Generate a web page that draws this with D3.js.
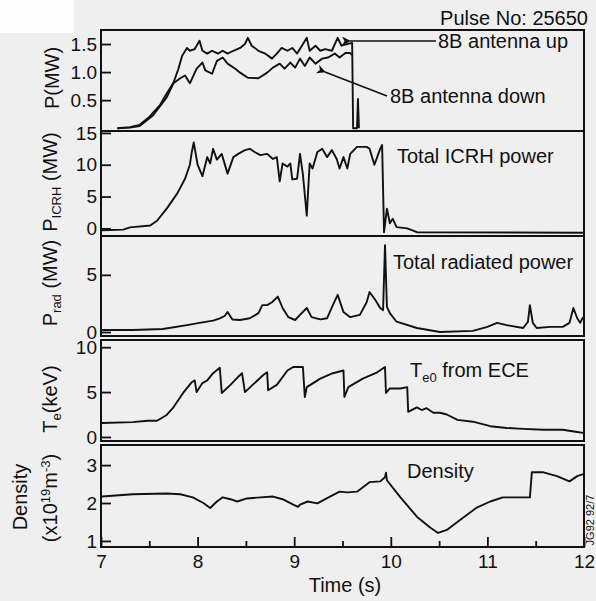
<!DOCTYPE html>
<html>
<head>
<meta charset="utf-8">
<script src="https://cdn.jsdelivr.net/npm/d3@7/dist/d3.min.js"></script>
<style>
  html, body { margin: 0; padding: 0; background: #efefef; }
  svg { display: block; }
  text { font-family: "Liberation Sans", Arial, Helvetica, sans-serif; fill: #111; }
</style>
</head>
<body>
<svg id="chart" width="596" height="601"></svg>
<script>
// ---- Data: JET pulse 25650, time traces (time in s, value) ----
const timeTicks = [7, 8, 9, 10, 11, 12];
const timeMinorTicks = [7.5, 8.5, 9.5, 10.5, 11.5];

const antennaUp = [
  [7.17,0.00],[7.30,0.02],[7.40,0.06],[7.50,0.20],[7.61,0.41],[7.68,0.62],[7.75,0.81],[7.80,1.05],
  [7.84,1.29],[7.89,1.43],[7.92,1.38],[7.97,1.41],[8.02,1.56],[8.05,1.38],[8.10,1.33],[8.15,1.38],
  [8.21,1.33],[8.26,1.38],[8.31,1.33],[8.37,1.38],[8.44,1.43],[8.49,1.50],[8.52,1.61],[8.56,1.47],
  [8.63,1.38],[8.70,1.33],[8.77,1.24],[8.82,1.33],[8.87,1.43],[8.93,1.38],[8.98,1.43],[9.03,1.33],
  [9.08,1.47],[9.13,1.61],[9.16,1.38],[9.22,1.47],[9.27,1.38],[9.32,1.41],[9.39,1.38],[9.45,1.61],
  [9.49,1.47],[9.55,1.50],[9.60,1.52],[9.61,0.00],[9.65,0.00],[9.66,0.52],[9.67,0.00]
];
const antennaDown = [
  [7.17,0.00],[7.30,0.01],[7.40,0.04],[7.54,0.23],[7.68,0.55],[7.75,0.80],[7.82,0.89],[7.87,0.94],
  [7.92,0.80],[7.99,1.06],[8.05,1.17],[8.08,1.03],[8.15,0.97],[8.20,1.20],[8.26,1.26],[8.31,1.15],
  [8.39,1.06],[8.44,0.99],[8.52,0.90],[8.63,0.89],[8.72,0.99],[8.78,1.08],[8.85,1.15],[8.90,1.06],
  [8.96,1.17],[9.01,1.08],[9.06,1.24],[9.11,1.11],[9.16,1.26],[9.22,1.15],[9.29,1.24],[9.35,1.26],
  [9.42,1.33],[9.47,1.26],[9.53,1.34],[9.58,1.34],[9.60,1.30]
];
const icrhPower = [
  [7.01,-0.3],[7.23,-0.2],[7.30,0.15],[7.51,0.45],[7.58,1.2],[7.68,3.1],[7.79,5.5],[7.87,7.8],
  [7.92,10.0],[7.94,12.0],[7.96,13.5],[8.00,10.0],[8.05,8.2],[8.10,11.2],[8.13,10.2],[8.16,12.5],
  [8.20,10.8],[8.25,11.7],[8.31,8.6],[8.37,11.2],[8.42,11.7],[8.49,12.3],[8.54,12.5],[8.59,12.0],
  [8.65,11.5],[8.72,11.7],[8.78,10.9],[8.82,11.2],[8.85,7.4],[8.88,10.2],[8.93,9.7],[8.96,10.2],
  [8.98,7.7],[9.03,7.8],[9.06,11.7],[9.09,8.5],[9.13,2.0],[9.16,10.2],[9.19,9.4],[9.24,12.0],
  [9.29,12.5],[9.34,11.2],[9.39,12.3],[9.44,10.9],[9.47,9.4],[9.51,11.2],[9.55,9.4],[9.58,11.7],
  [9.65,12.8],[9.70,12.8],[9.75,12.8],[9.78,12.5],[9.83,10.0],[9.89,12.5],[9.91,13.1],[9.93,-0.6],
  [9.96,3.1],[9.99,0.8],[10.02,1.5],[10.06,0.2],[10.17,0.0],[10.27,-0.6],[12.0,-0.7]
];
const radPower = [
  [7.01,0.18],[7.33,0.18],[7.64,0.26],[7.89,0.6],[8.02,0.8],[8.16,1.0],[8.23,1.2],[8.28,1.4],
  [8.31,1.75],[8.36,1.1],[8.44,1.05],[8.54,1.2],[8.63,1.65],[8.67,2.35],[8.72,2.35],[8.77,2.6],
  [8.83,3.1],[8.88,2.1],[8.94,1.3],[9.01,1.05],[9.06,1.5],[9.13,2.1],[9.18,1.3],[9.27,1.1],
  [9.34,1.2],[9.40,2.35],[9.45,3.25],[9.51,1.75],[9.58,1.3],[9.68,1.5],[9.75,2.6],[9.78,3.5],
  [9.84,2.8],[9.89,2.1],[9.92,1.9],[9.94,7.6],[9.96,2.2],[9.99,1.65],[10.06,0.9],[10.27,0.35],
  [10.51,0.0],[10.85,0.1],[11.00,0.45],[11.10,0.8],[11.20,0.6],[11.37,0.35],[11.42,0.9],[11.44,2.35],
  [11.47,0.8],[11.51,0.35],[11.65,0.45],[11.78,0.45],[11.85,0.8],[11.89,2.1],[11.93,1.2],[11.96,0.8],
  [11.99,1.3]
];
const teECE = [
  [7.01,1.55],[7.33,1.65],[7.48,1.8],[7.58,1.8],[7.68,2.45],[7.75,3.3],[7.85,4.9],[7.94,6.1],
  [7.97,6.3],[7.99,5.0],[8.05,6.0],[8.10,6.3],[8.16,7.1],[8.23,7.7],[8.25,4.9],[8.34,5.8],
  [8.42,6.7],[8.46,7.1],[8.49,5.0],[8.57,5.8],[8.68,6.9],[8.72,7.2],[8.73,5.2],[8.82,5.8],
  [8.93,7.4],[8.99,7.8],[9.09,7.8],[9.11,4.45],[9.13,5.55],[9.27,6.5],[9.40,7.1],[9.51,7.4],
  [9.52,4.45],[9.56,5.55],[9.71,6.5],[9.86,7.2],[9.94,7.8],[9.95,4.9],[9.99,5.4],[10.10,5.4],
  [10.17,5.55],[10.18,2.8],[10.27,3.3],[10.32,3.0],[10.37,3.2],[10.44,2.7],[10.51,2.7],[10.58,2.5],
  [10.69,1.9],[10.85,1.7],[11.03,1.2],[11.20,1.0],[11.37,0.9],[11.58,0.8],[11.78,0.8],[11.93,0.55],
  [11.99,0.45]
];
const density = [
  [7.01,2.17],[7.33,2.23],[7.68,2.25],[7.82,2.23],[7.95,2.15],[8.06,2.0],[8.13,1.87],[8.20,2.04],
  [8.26,2.15],[8.34,2.1],[8.41,2.04],[8.51,2.12],[8.65,2.15],[8.78,2.17],[8.88,2.1],[8.99,1.96],
  [9.04,1.9],[9.06,1.96],[9.14,2.04],[9.24,1.99],[9.37,2.17],[9.47,2.3],[9.55,2.28],[9.65,2.3],
  [9.78,2.55],[9.89,2.57],[9.94,2.68],[9.95,2.8],[9.96,2.6],[10.10,2.15],[10.27,1.64],[10.41,1.35],
  [10.49,1.21],[10.58,1.29],[10.72,1.56],[10.89,1.88],[11.03,2.04],[11.16,2.15],[11.37,2.15],[11.44,2.15],
  [11.46,2.81],[11.58,2.81],[11.72,2.71],[11.85,2.57],[11.93,2.71],[11.99,2.76]
];

const powerTicks = [0.5, 1.0, 1.5];
const icrhTicks = [0, 5, 10, 15];
const radTicks = [0, 5];
const teTicks = [0, 5, 10];
const densityTicks = [1, 2, 3];

// ---- Layout ----
const svg = d3.select("#chart");
const left = 101, right = 584;
const x = d3.scaleLinear().domain([7, 12]).range([left, right]);
const INK = "#111";

svg.append("rect").attr("x", 0).attr("y", 0).attr("width", 596).attr("height", 601).attr("fill", "#efefef");
svg.append("rect").attr("x", 0).attr("y", 0).attr("width", 74).attr("height", 33).attr("fill", "#fdfdfd");

const panels = [
  { top: 30,  bottom: 131, domain: [-0.05, 1.75], ticks: powerTicks, fmt: d3.format(".1f"), series: [antennaUp, antennaDown] },
  { top: 131, bottom: 236, domain: [-1.2, 15.3],  ticks: icrhTicks,  fmt: d3.format("d"),   series: [icrhPower] },
  { top: 236, bottom: 336, domain: [-0.35, 8.4],  ticks: radTicks,   fmt: d3.format("d"),   series: [radPower] },
  { top: 340, bottom: 441, domain: [-0.45, 10.8], ticks: teTicks,    fmt: d3.format("d"),   series: [teECE] },
  { top: 445, bottom: 547, domain: [0.84, 3.53],  ticks: densityTicks, fmt: d3.format("d"), series: [density] }
];

panels.forEach((p, i) => {
  const y = d3.scaleLinear().domain(p.domain).range([p.bottom, p.top]);
  p.y = y;
  const g = svg.append("g");

  // inward ticks on the left edge
  const ax = g.append("g")
    .attr("transform", `translate(${left},0)`)
    .call(d3.axisLeft(y).tickValues(p.ticks).tickFormat(p.fmt).tickSize(-10).tickPadding(4));
  ax.select(".domain").remove();
  ax.selectAll("line").attr("stroke", INK).attr("stroke-width", 1.8);
  ax.selectAll("text").attr("font-size", 19).attr("fill", INK)
    .style("font-family", '"Liberation Sans", Arial, sans-serif');

  // traces
  const line = d3.line().x(d => x(d[0])).y(d => y(d[1]));
  p.series.forEach(s => {
    g.append("path").datum(s).attr("d", line)
      .attr("fill", "none").attr("stroke", INK).attr("stroke-width", 1.9)
      .attr("stroke-linejoin", "round");
  });

  // frame
  g.append("rect").attr("x", left).attr("y", p.top)
    .attr("width", right - left).attr("height", p.bottom - p.top)
    .attr("fill", "none").attr("stroke", INK).attr("stroke-width", 2);
});

// time axis along the bottom panel
const last = panels[panels.length - 1];
const tAxis = svg.append("g").attr("transform", `translate(0,${last.bottom})`)
  .call(d3.axisBottom(x).tickValues(timeTicks).tickFormat(d3.format("d")).tickSize(-10).tickPadding(8));
tAxis.select(".domain").remove();
tAxis.selectAll("line").attr("stroke", INK).attr("stroke-width", 1.8);
tAxis.selectAll("text").attr("font-size", 19).attr("fill", INK)
  .style("font-family", '"Liberation Sans", Arial, sans-serif');
const tMinor = svg.append("g").attr("transform", `translate(0,${last.bottom})`)
  .call(d3.axisBottom(x).tickValues(timeMinorTicks).tickFormat("").tickSize(-6));
tMinor.select(".domain").remove();
tMinor.selectAll("line").attr("stroke", INK).attr("stroke-width", 1.8);

svg.append("text").attr("x", 345).attr("y", 592).attr("text-anchor", "middle")
  .attr("font-size", 20).text("Time (s)");

// y-axis titles (rotated)
function yTitle(cx, cy, parts) {
  const t = svg.append("text").attr("transform", `translate(${cx},${cy}) rotate(-90)`)
    .attr("text-anchor", "middle").attr("font-size", 20);
  parts.forEach(pt => {
    const ts = t.append("tspan").text(pt.text);
    if (pt.size) ts.attr("font-size", pt.size);
    if (pt.dy) ts.attr("dy", pt.dy);
  });
  return t;
}
yTitle(59, 78, [{ text: "P(MW)" }]);
yTitle(57, 182, [{ text: "P" }, { text: "ICRH", size: 13, dy: 4 }, { text: " (MW)", dy: -4 }]);
yTitle(57, 283, [{ text: "P" }, { text: "rad", size: 13, dy: 4 }, { text: " (MW)", dy: -4 }]);
yTitle(57, 399, [{ text: "T" }, { text: "e", size: 13, dy: 4 }, { text: "(keV)", dy: -4 }]);
yTitle(27, 497, [{ text: "Density" }]);
yTitle(57, 498, [{ text: "(x10" }, { text: "19", size: 13, dy: -7 }, { text: "m", dy: 7 }, { text: "-3", size: 13, dy: -7 }, { text: ")", dy: 7 }]);

// annotations
svg.append("text").attr("x", 588).attr("y", 25).attr("text-anchor", "end")
  .attr("font-size", 20).text("Pulse No: 25650");

const defs = svg.append("defs");
defs.append("marker").attr("id", "head").attr("viewBox", "0 0 10 10")
  .attr("refX", 1).attr("refY", 5).attr("markerWidth", 11).attr("markerHeight", 9)
  .attr("markerUnits", "userSpaceOnUse").attr("orient", "auto-start-reverse")
  .append("path").attr("d", "M0,5 L10,0 L7,5 L10,10 Z").attr("fill", INK);

svg.append("line").attr("x1", 436).attr("y1", 41).attr("x2", 350).attr("y2", 41)
  .attr("stroke", INK).attr("stroke-width", 1.6).attr("marker-end", "url(#head)");
svg.append("text").attr("x", 438).attr("y", 48).attr("font-size", 20).text("8B antenna up");

svg.append("line").attr("x1", 387).attr("y1", 96).attr("x2", 325).attr("y2", 72)
  .attr("stroke", INK).attr("stroke-width", 1.6).attr("marker-end", "url(#head)");
svg.append("text").attr("x", 390).attr("y", 103).attr("font-size", 20).text("8B antenna down");

svg.append("text").attr("x", 397).attr("y", 163).attr("font-size", 20).text("Total ICRH power");
svg.append("text").attr("x", 393).attr("y", 269).attr("font-size", 20).text("Total radiated power");

const te0 = svg.append("text").attr("x", 410).attr("y", 377).attr("font-size", 20);
te0.append("tspan").text("T");
te0.append("tspan").attr("font-size", 13).attr("dy", 5).text("e0");
te0.append("tspan").attr("dy", -5).text(" from ECE");

svg.append("text").attr("x", 407).attr("y", 478).attr("font-size", 20).text("Density");

svg.append("text").attr("transform", "translate(594,520) rotate(-90)")
  .attr("text-anchor", "middle").attr("font-size", 11).text("JG92 92/7");
</script>
</body>
</html>
